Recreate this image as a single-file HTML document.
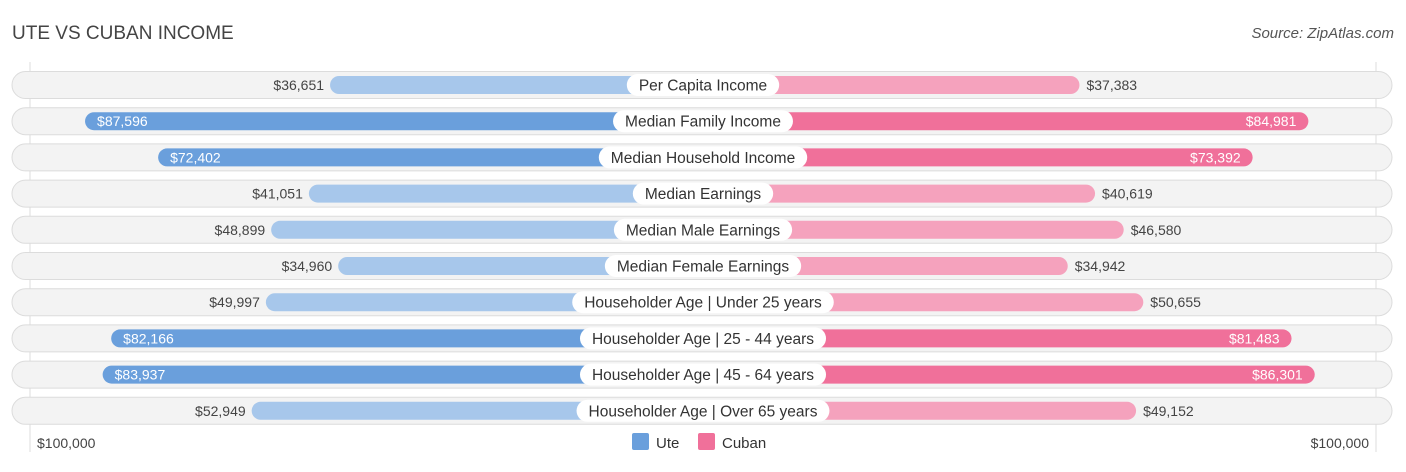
<!DOCTYPE html>
<html><head><meta charset="utf-8"><style>
body{margin:0;background:#fff;font-family:"Liberation Sans",sans-serif;}
svg text{font-family:"Liberation Sans",sans-serif;}
</style></head><body>
<svg id="c" width="1406" height="467">
<text x="12" y="39" font-size="19" fill="#444">UTE VS CUBAN INCOME</text>
<text x="1394" y="38" font-size="15" fill="#555" font-style="italic" text-anchor="end">Source: ZipAtlas.com</text>
<line x1="30" y1="62" x2="30" y2="452" stroke="#ddd"/>
<line x1="1376" y1="62" x2="1376" y2="452" stroke="#ddd"/>
<g id="rows"></g>
<text x="37" y="448" font-size="14" fill="#444">$100,000</text>
<text x="1369" y="448" font-size="14" fill="#444" text-anchor="end">$100,000</text>
<g><rect x="632" y="433" width="17" height="17" rx="2" fill="#6a9fdc"/><text x="656" y="448" font-size="15" fill="#333">Ute</text></g>
<g><rect x="698" y="433" width="17" height="17" rx="2" fill="#f0709a"/><text x="722" y="448" font-size="15" fill="#333">Cuban</text></g>
</svg>
<script>
const categories=["Per Capita Income","Median Family Income","Median Household Income","Median Earnings","Median Male Earnings","Median Female Earnings","Householder Age | Under 25 years","Householder Age | 25 - 44 years","Householder Age | 45 - 64 years","Householder Age | Over 65 years"];
const uteValues=[36651,87596,72402,41051,48899,34960,49997,82166,83937,52949];
const cubanValues=[37383,84981,73392,40619,46580,34942,50655,81483,86301,49152];
const cx=703, a=196.7, b=0.004809;
function len(v){return a+b*v;}
function yRow(i){return 85+i*36.2;}
function fmt(v){return "$"+v.toLocaleString("en-US");}
const NS="http://www.w3.org/2000/svg";
const g=document.getElementById("rows");
function mk(t,attrs,parent){const e=document.createElementNS(NS,t);for(const k in attrs)e.setAttribute(k,attrs[k]);parent.appendChild(e);return e;}
categories.forEach((cat,i)=>{
  const y=yRow(i);
  const row=mk("g",{},g);
  
  
  const bg=mk("rect",{x:12,y:y-13.5,width:1380,height:27,rx:13.5,fill:"#f3f3f3",stroke:"#dcdcdc"},row);
  
  
  const u=uteValues[i],c=cubanValues[i];
  const uStrong=u>60000,cStrong=c>60000;
  const lu=len(u),lc=len(c);
  const ub=mk("rect",{x:cx-lu,y:y-9,width:lu,height:18,rx:9,fill:uStrong?"#6a9fdc":"#a7c7eb"},row);
  
  
  const cb=mk("rect",{x:cx,y:y-9,width:lc,height:18,rx:9,fill:cStrong?"#f0709a":"#f5a2bd"},row);
  
  
  const ut=mk("text",{y:y+5,"font-size":14},row);
  if(uStrong){ut.setAttribute("x",cx-lu+12);ut.setAttribute("fill","#fff");}
  else{ut.setAttribute("x",cx-lu-6);ut.setAttribute("text-anchor","end");ut.setAttribute("fill","#444");}
  ut.textContent=fmt(u);
  
  
  const ct=mk("text",{y:y+5,"font-size":14},row);
  if(cStrong){ct.setAttribute("x",cx+lc-12);ct.setAttribute("text-anchor","end");ct.setAttribute("fill","#fff");}
  else{ct.setAttribute("x",cx+lc+7);ct.setAttribute("fill","#444");}
  ct.textContent=fmt(c);
  
  
  const lt=mk("text",{x:cx,y:y+5.5,"font-size":15.5,"text-anchor":"middle",fill:"#333"},row);
  lt.textContent=cat;
  const w=lt.getComputedTextLength()+24;
  const pill=mk("rect",{x:cx-w/2,y:y-11,width:w,height:22,rx:11,fill:"#fff"},row);
  row.insertBefore(pill,lt);
  
  
  
  
});
</script>
</body></html>
